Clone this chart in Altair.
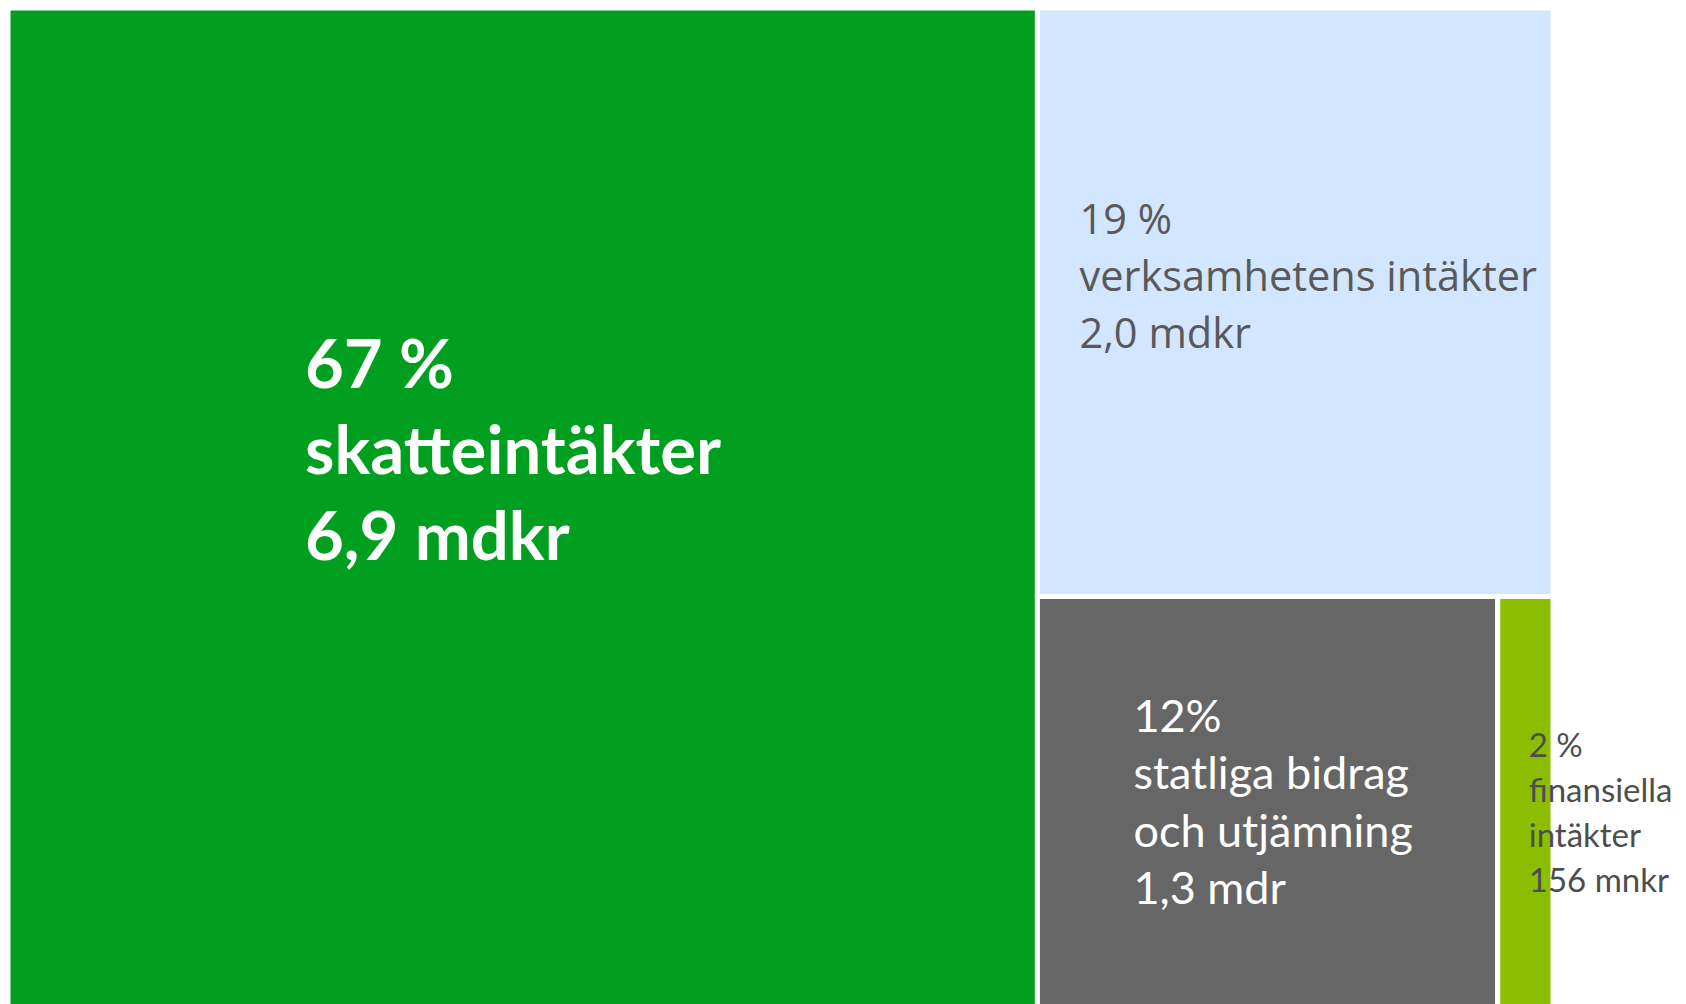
import altair as alt
import pandas as pd

# --- data ---
categories = ["skatteintäkter", "verksamhetens intäkter", "statliga bidrag och utjämning", "finansiella intäkter"]
values_mnkr = [6900, 2000, 1300, 156]
labels = [
    "67 %\nskatteintäkter\n6,9 mdkr",
    "19 %\nverksamhetens intäkter\n2,0 mdkr",
    "12%\nstatliga bidrag\noch utjämning\n1,3 mdr",
    "2 %\nfinansiella\nintäkter\n156 mnkr",
]
colors = ["#009F1F", "#D2E6FF", "#666666", "#8CBE00"]

# --- slice-and-dice treemap layout computed from the values ---
total = sum(values_mnkr)
v0, v1, v2, v3 = values_mnkr
rest = v1 + v2 + v3
bottom = v2 + v3
split_y = v1 / rest
split_x = v0 + (total - v0) * v2 / bottom
rects = [
    (0, v0, 0, 1),
    (v0, total, 0, split_y),
    (v0, split_x, split_y, 1),
    (split_x, total, split_y, 1),
]
df = pd.DataFrame({
    "cat": categories,
    "value": values_mnkr,
    "label": labels,
    "x0": [r[0] for r in rects],
    "x1": [r[1] for r in rects],
    "y0": [r[2] for r in rects],
    "y1": [r[3] for r in rects],
})

W, H = 1545, 1017
xs = alt.Scale(domain=[0, total], nice=False, zero=False)
ys = alt.Scale(domain=[0, 1], nice=False, zero=False, reverse=True)

base = alt.Chart(df)

rect = base.mark_rect(stroke="white", strokeWidth=5).encode(
    x=alt.X("x0:Q", scale=xs, axis=None),
    x2="x1:Q",
    y=alt.Y("y0:Q", scale=ys, axis=None),
    y2="y1:Q",
    color=alt.Color("cat:N", scale=alt.Scale(domain=categories, range=colors), legend=None),
)

label_styles = [
    dict(font="Lato", fontSize=67, fontWeight="bold", color="white", dx=297, dy=380, lineHeight=86),
    dict(font="Open Sans", fontSize=41.5, fontWeight="normal", color="#595959", dx=42, dy=226, lineHeight=57),
    dict(font="Lato", fontSize=45, fontWeight="normal", color="white", dx=96, dy=135, lineHeight=57.5),
    dict(font="Lato", fontSize=33, fontWeight="normal", color="#4D4D4D", dx=31, dy=160, lineHeight=45.3),
]

texts = []
for cat, st in zip(categories, label_styles):
    t = base.transform_filter(alt.datum.cat == cat).mark_text(
        align="left", baseline="alphabetic", lineBreak="\n",
        font=st["font"], fontSize=st["fontSize"], fontWeight=st["fontWeight"],
        color=st["color"], dx=st["dx"], dy=st["dy"], lineHeight=st["lineHeight"],
    ).encode(
        x=alt.X("x0:Q", scale=xs, axis=None),
        y=alt.Y("y0:Q", scale=ys, axis=None),
        text="label:N",
    )
    texts.append(t)

chart = alt.layer(rect, *texts).properties(
    width=W, height=H,
    padding={"left": 0, "top": 0, "right": 125, "bottom": 0},
    autosize=alt.AutoSizeParams(type="none"),
).configure_view(stroke=None)

chart.save("out.html", embed_options={"renderer": "svg", "actions": False})
